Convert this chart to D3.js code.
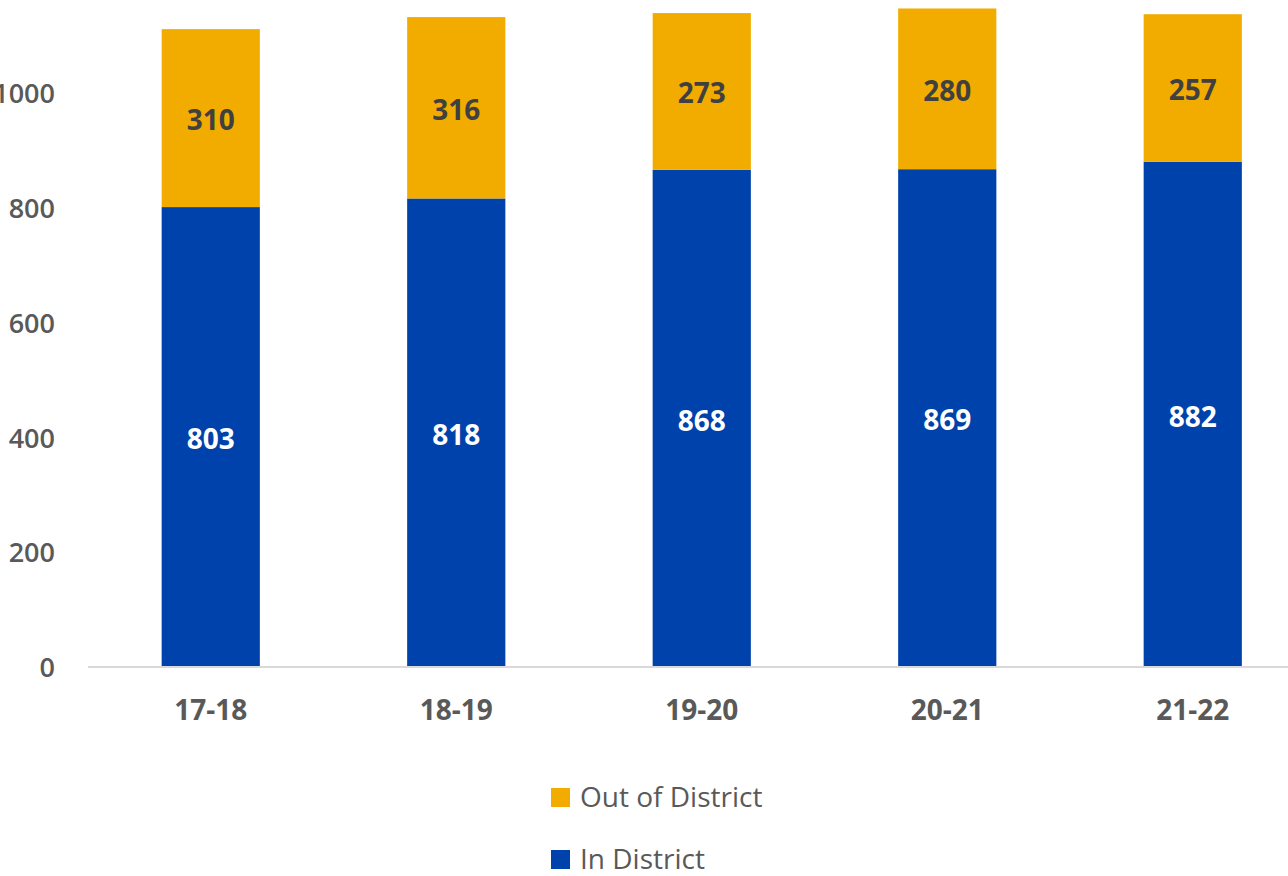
<!DOCTYPE html>
<html>
<head>
<meta charset="utf-8">
<script src="https://cdn.jsdelivr.net/npm/d3@7"></script>
<style>
  html, body { margin: 0; padding: 0; background: #ffffff; }
  svg { display: block; }
  text { font-family: "Open Sans", "DejaVu Sans", sans-serif; }
</style>
</head>
<body>
<svg id="chart" width="1288" height="876"></svg>
<script>
// Enrollment by school year, split by residence
const years = ["17-18", "18-19", "19-20", "20-21", "21-22"];
const inDistrict = [803, 818, 868, 869, 882];
const outOfDistrict = [310, 316, 273, 280, 257];
const yTicks = [0, 200, 400, 600, 800, 1000];
const seriesNames = ["Out of District", "In District"];
const seriesColors = ["#F2AC00", "#0042AB"];

const svg = d3.select("#chart");

const x = d3.scaleBand()
  .domain(years)
  .range([88, 88 + 5 * 245.5])
  .paddingInner(0.6)
  .paddingOuter(0.3);

const y = d3.scaleLinear()
  .domain([0, 1200])
  .range([668, 668 - 1200 * 0.574]);

// y axis labels (no line, no ticks)
const yAxis = d3.axisLeft(y).tickValues(yTicks).tickFormat(d3.format("d")).tickSize(0).tickPadding(0);
const yg = svg.append("g").attr("transform", "translate(55,0)").call(yAxis);
yg.select(".domain").remove();
yg.selectAll("text")
  .attr("fill", "#595959")
  .style("font-size", "27px")
  .style("font-weight", "600")
  .style("font-family", "'Open Sans', sans-serif");

// stacked bars
const rows = years.map((yr, i) => ({ year: yr, inD: inDistrict[i], outD: outOfDistrict[i] }));
const stack = d3.stack().keys(["inD", "outD"])(rows);

const layer = svg.append("g").selectAll("g")
  .data(stack)
  .join("g")
  .attr("fill", (d, i) => i === 0 ? seriesColors[1] : seriesColors[0]);

layer.selectAll("rect")
  .data(d => d)
  .join("rect")
  .attr("x", d => x(d.data.year))
  .attr("width", x.bandwidth())
  .attr("y", d => y(d[1]))
  .attr("height", d => y(d[0]) - y(d[1]));

// value labels centred in each segment
stack.forEach((s, si) => {
  svg.append("g").selectAll("text")
    .data(s)
    .join("text")
    .attr("x", d => x(d.data.year) + x.bandwidth() / 2)
    .attr("y", d => (y(d[0]) + y(d[1])) / 2)
    .attr("dy", "0.42em")
    .attr("text-anchor", "middle")
    .attr("fill", si === 0 ? "#ffffff" : "#404040")
    .style("font-size", "28px")
    .style("font-weight", "bold")
    .text(d => d[1] - d[0]);
});

// x axis: baseline and category labels
const xAxis = d3.axisBottom(x).tickSize(0).tickPadding(0);
const xg = svg.append("g").attr("transform", "translate(0,667)").call(xAxis);
xg.select(".domain")
  .attr("stroke", "#d9d9d9")
  .attr("stroke-width", 2)
  .attr("d", `M88,0H${88 + 5 * 245.5}`);
xg.selectAll("text")
  .attr("y", 43)
  .attr("dy", "0.35em")
  .attr("fill", "#595959")
  .style("font-size", "28px")
  .style("font-weight", "bold")
  .style("font-family", "'Open Sans', sans-serif");

// legend
const legend = svg.append("g").selectAll("g")
  .data(seriesNames)
  .join("g")
  .attr("transform", (d, i) => `translate(551,${797 + i * 62})`);
legend.append("rect")
  .attr("x", 0).attr("y", -9)
  .attr("width", 19).attr("height", 19)
  .attr("fill", (d, i) => seriesColors[i]);
legend.append("text")
  .attr("x", 29).attr("y", 0)
  .attr("dy", "0.35em")
  .attr("fill", "#595959")
  .style("font-size", "28px")
  .text(d => d);
</script>
</body>
</html>
